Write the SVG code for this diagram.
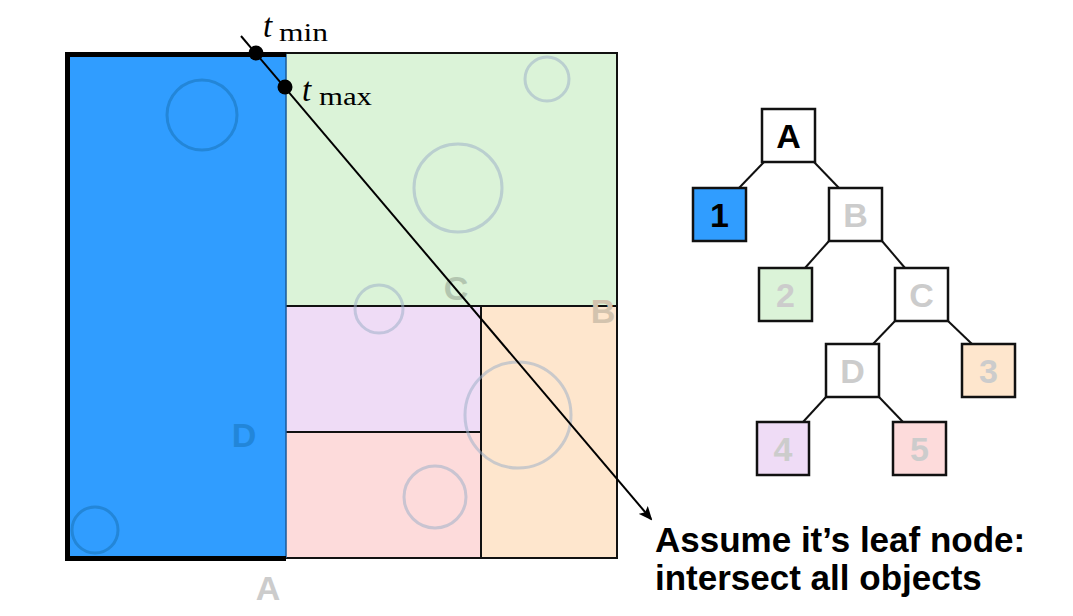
<svg xmlns="http://www.w3.org/2000/svg" width="1073" height="616" viewBox="0 0 1073 616">
<style>
.obj{fill:none;stroke:#9fb0c8;stroke-opacity:0.55;stroke-width:3}
.objb{fill:none;stroke:#2386d8;stroke-width:3}
.part{stroke:#111;stroke-width:2}
.rl{font-family:"Liberation Sans",Arial,sans-serif;font-weight:bold;font-size:34px;text-anchor:middle}
.box{stroke:#111;stroke-width:2.5}
.tl{font-family:"Liberation Sans",Arial,sans-serif;font-weight:bold;font-size:34px;text-anchor:middle;fill:#cccccc}
.edge{stroke:#111;stroke-width:2}
.it{font-family:"Liberation Serif","Times New Roman",serif;font-style:italic;font-size:33px;fill:#000}
.sub{font-family:"Liberation Serif","Times New Roman",serif;font-size:25px;fill:#000}
</style>
<defs>
<marker id="ah" markerWidth="14" markerHeight="12" refX="12" refY="6" orient="auto" markerUnits="userSpaceOnUse">
<path d="M0,0 L14,6 L0,12 L3,6 Z" fill="#000"/>
</marker>
</defs>
<rect width="1073" height="616" fill="#fff"/>
<g id="space">
<rect x="286" y="53" width="331" height="253" fill="#dbf3d8"/>
<rect x="286" y="306" width="195" height="126" fill="#efdcf6"/>
<rect x="286" y="432" width="195" height="126" fill="#fddbdb"/>
<rect x="481" y="306" width="136" height="252" fill="#fee6cd"/>
<rect x="67.5" y="54.5" width="218.5" height="504" fill="#309dff"/>
<line class="part" x1="286" y1="306" x2="617" y2="306"/>
<line class="part" x1="286" y1="432" x2="481" y2="432"/>
<line class="part" x1="481" y1="306" x2="481" y2="558"/>
<line class="part" x1="286" y1="53" x2="617" y2="53"/>
<line class="part" x1="617" y1="52" x2="617" y2="559"/>
<line class="part" x1="286" y1="558" x2="617" y2="558"/>
<line x1="286" y1="54" x2="286" y2="558" stroke="#1a5a99" stroke-width="1.5"/>
<path d="M286,54.5 H67.5 V558.5 H286" fill="none" stroke="#000" stroke-width="5"/>
<circle class="objb" cx="202" cy="115" r="35"/>
<circle class="objb" cx="95" cy="530" r="23"/>
<circle class="obj" cx="547" cy="79" r="22"/>
<circle class="obj" cx="458" cy="188" r="44"/>
<circle class="obj" cx="379" cy="309" r="24"/>
<circle class="obj" cx="518" cy="415" r="53"/>
<circle class="obj" cx="435" cy="497" r="31"/>
<text class="rl" x="456" y="300" fill="#b3c6b0">C</text>
<text class="rl" x="603" y="323" fill="#d3c3ae">B</text>
<text class="rl" x="244" y="447" fill="#2286d9">D</text>
<text class="rl" x="268" y="600" fill="#cccccc">A</text>
</g>
<g id="ray">
<line x1="241" y1="36" x2="651" y2="519" stroke="#000" stroke-width="2" marker-end="url(#ah)"/>
<circle cx="256" cy="53" r="7.5" fill="#000"/>
<circle cx="285" cy="87" r="7.5" fill="#000"/>
<text class="it" x="263" y="37">t</text>
<text class="sub" x="279" y="41" textLength="49" lengthAdjust="spacingAndGlyphs">min</text>
<text class="it" x="302" y="101">t</text>
<text class="sub" x="319" y="105" textLength="53" lengthAdjust="spacingAndGlyphs">max</text>
</g>
<g id="connectors">
<line class="edge" x1="764" y1="162" x2="739" y2="188"/>
<line class="edge" x1="814" y1="162" x2="839" y2="188"/>
<line class="edge" x1="829" y1="241" x2="805" y2="268"/>
<line class="edge" x1="882" y1="241" x2="905" y2="268"/>
<line class="edge" x1="895" y1="321" x2="873" y2="344"/>
<line class="edge" x1="948" y1="321" x2="972" y2="344"/>
<line class="edge" x1="826" y1="397" x2="803" y2="422"/>
<line class="edge" x1="879" y1="397" x2="903" y2="422"/>
</g>
<g id="nodeA"><rect class="box" x="762" y="109" width="53" height="53" fill="#fff"/><text class="tl" x="788.5" y="148" style="fill:#000">A</text></g>
<g id="node1"><rect class="box" x="693" y="188" width="53" height="53" fill="#309dff"/><text class="tl" x="719.5" y="227" style="fill:#000">1</text></g>
<g id="nodeB"><rect class="box" x="829" y="188" width="53" height="53" fill="#fff"/><text class="tl" x="855.5" y="227">B</text></g>
<g id="node2"><rect class="box" x="759" y="268" width="53" height="53" fill="#dbf3d8"/><text class="tl" x="785.5" y="307">2</text></g>
<g id="nodeC"><rect class="box" x="895" y="268" width="53" height="53" fill="#fff"/><text class="tl" x="921.5" y="307">C</text></g>
<g id="nodeD"><rect class="box" x="826" y="344" width="53" height="53" fill="#fff"/><text class="tl" x="852.5" y="383">D</text></g>
<g id="node3"><rect class="box" x="962" y="344" width="53" height="53" fill="#fee6cd"/><text class="tl" x="988.5" y="383">3</text></g>
<g id="node4"><rect class="box" x="757" y="422" width="52" height="53" fill="#efdcf6"/><text class="tl" x="783" y="461">4</text></g>
<g id="node5"><rect class="box" x="893" y="422" width="53" height="53" fill="#fddbdb"/><text class="tl" x="919.5" y="461">5</text></g>
<g id="caption" font-family="'Liberation Sans',Arial,sans-serif" font-weight="bold" font-size="35" fill="#000">
<text x="655" y="552">Assume it’s leaf node:</text>
<text x="655" y="590">intersect all objects</text>
</g>
</svg>
